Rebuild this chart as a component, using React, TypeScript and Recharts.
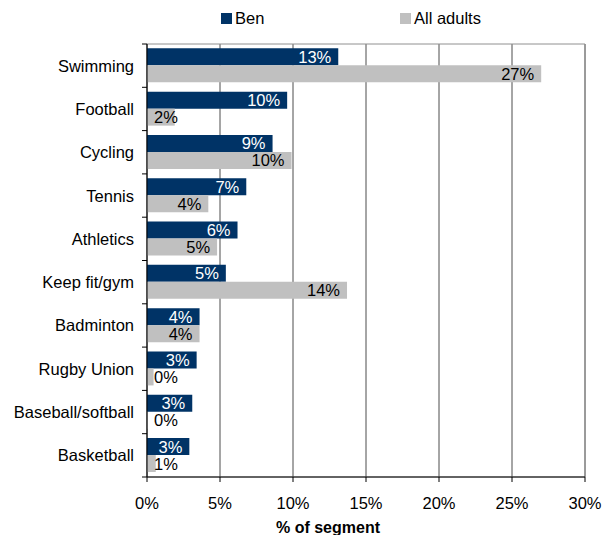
import React from 'react';
import { BarChart, Bar, XAxis, YAxis, CartesianGrid, LabelList, ReferenceArea } from 'recharts';

const categories = ['Swimming', 'Football', 'Cycling', 'Tennis', 'Athletics', 'Keep fit/gym', 'Badminton', 'Rugby Union', 'Baseball/softball', 'Basketball'];
const benValues = [13.1, 9.6, 8.6, 6.8, 6.2, 5.4, 3.6, 3.4, 3.1, 2.9];
const adultValues = [27.0, 1.9, 9.9, 4.2, 4.8, 13.7, 3.6, 0.45, 0.05, 0.6];
const xTicks = [0, 5, 10, 15, 20, 25, 30];
const seriesNames = ['Ben', 'All adults'];

const data = categories.map((name, i) => ({ name, ben: benValues[i], adults: adultValues[i] }));

const W = 613;
const H = 535;
const TOP = 44;
const BOTTOM = 58;
const LEFT = 147;
const RIGHT = 28;
const BAND = (H - TOP - BOTTOM) / categories.length;
const FONT = '"Liberation Sans", Arial, sans-serif';
const FS = 16.5;
const BEN = '#003366';
const ADULTS = '#C0C0C0';

const textWidth = (s: string, size: number) => {
  let w = 0;
  for (const c of s) w += c === '%' ? 0.889 : 0.556;
  return w * size;
};

const makeLabel = (color: string) => (props: any) => {
  const { x, y, width, height, value } = props;
  const s = `${Math.round(Number(value))}%`;
  const tw = textWidth(s, FS);
  const endX = Math.max(Number(x) + Number(width) - 7, Number(x) + 7 + tw);
  return (
    <text x={endX} y={Number(y) + Number(height) / 2} textAnchor="end" dominantBaseline="central" fill={color} fontSize={FS} fontFamily={FONT}>
      {s}
    </text>
  );
};

const YTick = (props: any) => {
  const { y, payload, index } = props;
  const top = y - BAND / 2;
  const bottom = y + BAND / 2;
  return (
    <g>
      <text x={LEFT - 13} y={y} textAnchor="end" dominantBaseline="central" fill="#000" fontSize={FS} fontFamily={FONT}>
        {payload.value}
      </text>
      <line x1={LEFT - 5} x2={LEFT} y1={top} y2={top} stroke="#000" />
      {index === categories.length - 1 ? <line x1={LEFT - 5} x2={LEFT} y1={bottom} y2={bottom} stroke="#000" /> : null}
    </g>
  );
};

const legendLefts = [221, 400];
const legendColors = [BEN, ADULTS];

export default function App() {
  return (
    <div style={{ position: 'absolute', left: 0, top: 0, width: W, height: H, background: '#fff' }}>
      <BarChart width={W} height={H} data={data} layout="vertical" margin={{ top: TOP, right: RIGHT, bottom: 0, left: 0 }} barCategoryGap="10%" barGap={0}>
        <CartesianGrid vertical horizontal={false} stroke="#4d4d4d" />
        <ReferenceArea x1={0} x2={30} fill="none" stroke="#909090" ifOverflow="visible" />
        <XAxis
          type="number"
          domain={[0, 30]}
          ticks={xTicks}
          tickFormatter={(v: number) => `${v}%`}
          height={BOTTOM}
          tickSize={5}
          tickMargin={15}
          interval={0}
          axisLine={{ stroke: '#000' }}
          tickLine={{ stroke: '#000' }}
          tick={{ fill: '#000', fontSize: FS, fontFamily: FONT }}
          label={{ value: '% of segment', position: 'insideBottom', offset: 2, dx: -38, fill: '#000', fontSize: 16, fontWeight: 'bold', fontFamily: FONT }}
        />
        <YAxis
          type="category"
          dataKey="name"
          width={LEFT}
          tickLine={false}
          axisLine={{ stroke: '#000' }}
          tick={<YTick />}
          interval={0}
        />
        <Bar dataKey="ben" name={seriesNames[0]} fill={BEN} isAnimationActive={false}>
          <LabelList dataKey="ben" content={makeLabel('#fff')} />
        </Bar>
        <Bar dataKey="adults" name={seriesNames[1]} fill={ADULTS} isAnimationActive={false}>
          <LabelList dataKey="adults" content={makeLabel('#000')} />
        </Bar>
      </BarChart>
      {seriesNames.map((n, i) => (
        <div key={n} style={{ position: 'absolute', left: legendLefts[i], top: 8, height: 20, display: 'flex', alignItems: 'center', fontFamily: FONT, fontSize: FS, color: '#000' }}>
          <span style={{ display: 'inline-block', width: 11, height: 11, background: legendColors[i], marginRight: 3 }} />
          <span>{n}</span>
        </div>
      ))}
    </div>
  );
}
